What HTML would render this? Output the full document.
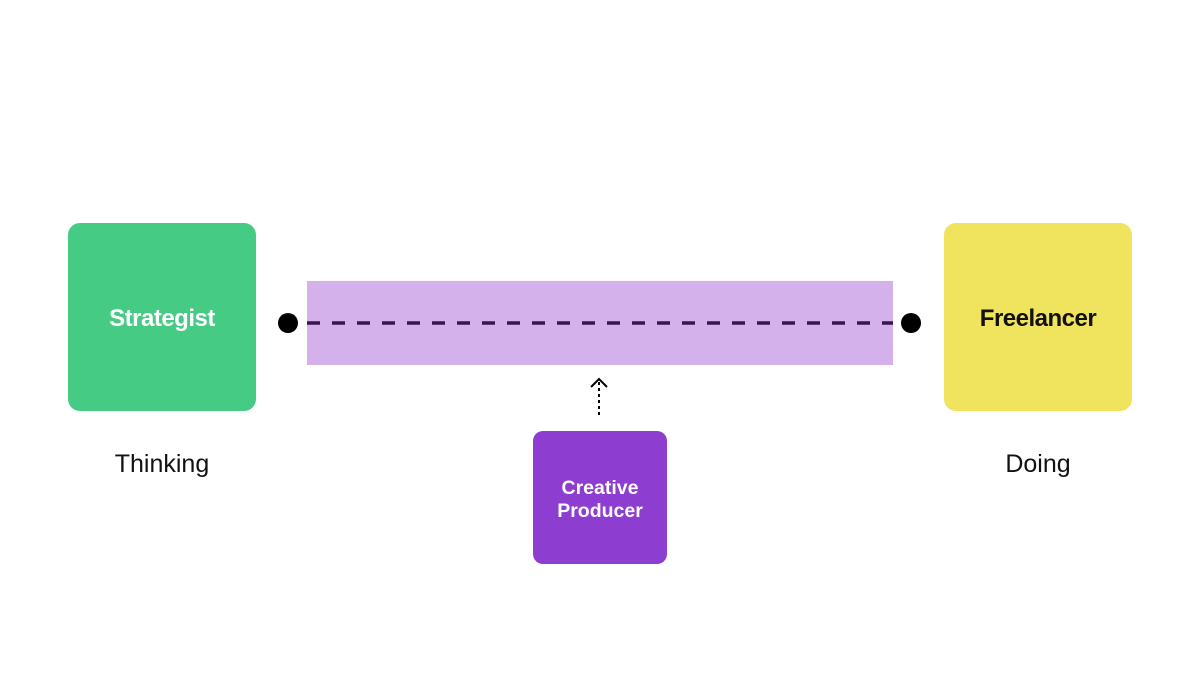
<!DOCTYPE html>
<html><head><style>
body{margin:0;width:1200px;height:675px;background:#fff;overflow:hidden;font-family:"Liberation Sans",sans-serif}
</style></head><body>
<svg width="1200" height="675" viewBox="0 0 1200 675" xmlns="http://www.w3.org/2000/svg" font-family="Liberation Sans, sans-serif">
<rect x="68" y="223" width="188" height="188" rx="12" fill="#45cb83"/>
<text x="162" y="326" text-anchor="middle" font-size="24" font-weight="bold" fill="#fff" letter-spacing="-0.5">Strategist</text>
<rect x="944" y="223" width="188" height="188" rx="12" fill="#f0e35d"/>
<text x="1038" y="326" text-anchor="middle" font-size="24" font-weight="bold" fill="#111" letter-spacing="-0.5">Freelancer</text>
<text x="162" y="472" text-anchor="middle" font-size="25" fill="#111">Thinking</text>
<text x="1038" y="472" text-anchor="middle" font-size="25" fill="#111">Doing</text>
<rect x="307" y="281" width="586" height="84" fill="#d4b1eb"/>
<line x1="307" y1="323" x2="893" y2="323" stroke="#3a1550" stroke-width="3.5" stroke-dasharray="13 12"/>
<circle cx="288" cy="323" r="10" fill="#000"/>
<circle cx="911" cy="323" r="10" fill="#000"/>
<path d="M591 387 L599 379 L607 387" fill="none" stroke="#000" stroke-width="2"/>
<line x1="599" y1="382" x2="599" y2="418" stroke="#000" stroke-width="2" stroke-dasharray="3 3"/>
<rect x="533" y="431" width="134" height="133" rx="10" fill="#8e3dd1"/>
<text x="600" y="494" text-anchor="middle" font-size="19.5" font-weight="bold" fill="#fff">Creative</text>
<text x="600" y="517" text-anchor="middle" font-size="19.5" font-weight="bold" fill="#fff">Producer</text>
</svg>
</body></html>
